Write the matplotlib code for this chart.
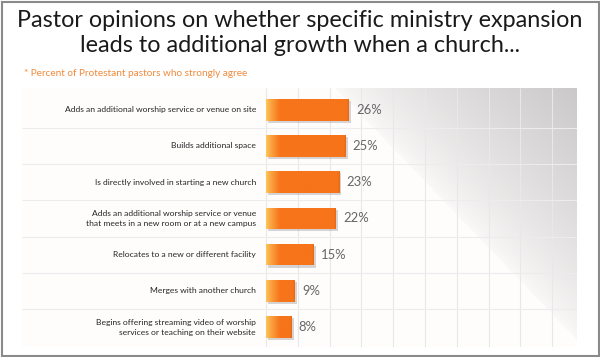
import numpy as np
import matplotlib
matplotlib.use("Agg")
import matplotlib.pyplot as plt
from matplotlib.patches import FancyBboxPatch, Rectangle
from matplotlib import patheffects as pe

W, H = 600, 357

labels = [
    "Adds an additional worship service or venue on site",
    "Builds additional space",
    "Is directly involved in starting a new church",
    "Adds an additional worship service or venue\nthat meets in a new room or at a new campus",
    "Relocates to a new or different facility",
    "Merges with another church",
    "Begins offering streaming video of worship\nservices or teaching on their website",
]
values = [26, 25, 23, 22, 15, 9, 8]
grid_ticks = [0, 10, 20, 30, 40, 50, 60, 70, 80, 90]

TITLE = "Pastor opinions on whether specific ministry expansion\nleads to additional growth when a church..."
NOTE = "* Percent of Protestant pastors who strongly agree"

plt.rcParams["font.family"] = ["Lato", "DejaVu Sans"]

fig = plt.figure(figsize=(W / 100, H / 100), dpi=100)
fig.patch.set_facecolor("white")

# outer frame
fig.patches.append(Rectangle((1.5 / W, 1.5 / H), 1 - 3 / W, 1 - 3 / H, transform=fig.transFigure,
                             fill=False, edgecolor="#8a8a8a", linewidth=1.5))

fig.text(0.5, 1 - 33 / H, TITLE, ha="center", va="center", fontsize=16.8,
         color="#1a1a1a", linespacing=1.22)
fig.text(24 / W, 1 - 73 / H, NOTE, ha="left", va="center", fontsize=7.2, color="#f08a3c")

# panel axes: pixel 22..577 horizontally, 88..347 vertically
px0, px1, py0, py1 = 22, 577, 88, 347
ax = fig.add_axes([px0 / W, 1 - py1 / H, (px1 - px0) / W, (py1 - py0) / H])
ax.set_axis_off()

scale = 3.18  # px per percent
x_start = 266
xmin = (px0 - x_start) / scale
xmax = (px1 - x_start) / scale
n = len(values)
ax.set_xlim(xmin, xmax)
ax.set_ylim(n - 0.45, -0.6)

panel = FancyBboxPatch((xmin, n - 0.45), xmax - xmin, -(n - 0.45 + 0.6),
                       boxstyle="round,pad=0,rounding_size=1.6", mutation_aspect=0.12,
                       facecolor="white", edgecolor="#b5b5b5", linewidth=1.0, zorder=0,
                       path_effects=[pe.SimplePatchShadow(offset=(1, -1), alpha=0.25), pe.Normal()])
ax.add_patch(panel)

# diagonal gray shading in upper-right corner
pw, ph = px1 - px0, py1 - py0
gx, gy = np.meshgrid(np.arange(pw), np.arange(ph))
# edge line from (335, 88) to (577, 340) in figure pixels
ax0, ay0 = 335 - px0, 0
nx, ny = 252.0, -242.0
nrm = np.hypot(nx, ny)
d = ((gx - ax0) * nx + (gy - ay0) * ny) / nrm
dmax = ((pw - ax0) * nx) / nrm
t = np.clip(d / dmax, 0, 1)
shade = np.where(d > 0, 0.985 - 0.19 * t ** 0.75, 1.0)
rgb = np.dstack([shade, shade * 0.99, shade * 0.99])
img = ax.imshow(rgb, extent=(xmin, xmax, n - 0.45, -0.6), aspect="auto", zorder=0.5,
                interpolation="bilinear")
img.set_clip_path(panel)

# grid
ax.vlines(grid_ticks, -0.6, n - 0.45, color="#e8e8e8", linewidth=0.8, zorder=1)
ax.hlines(np.arange(n - 1) + 0.5, xmin, xmax, color="#ececec", linewidth=0.8, zorder=1)

# bars
y = np.arange(n)
bars = ax.barh(y, values, height=0.6, left=0, color="#f5731b", zorder=3,
               path_effects=[pe.SimplePatchShadow(offset=(1.5, -1.5), alpha=0.3, shadow_rgbFace="#777777"),
                             pe.Normal()])

# horizontal gradient on each bar (light orange on the left)
fade = 14 / scale
for rect, v in zip(bars, values):
    xs = np.linspace(0, v, 200)
    k = np.clip(xs / fade, 0, 1) ** 0.8
    c0 = np.array([253, 200, 95]) / 255
    c1 = np.array([247, 116, 26]) / 255
    cols = c0[None, :] * (1 - k[:, None]) + c1[None, :] * k[:, None]
    edge = np.clip((xs - (v - 0.6)) / 0.6, 0, 1)
    cols = cols * (1 - 0.08 * edge[:, None])
    im = ax.imshow(cols[None, :, :], extent=(0, v, rect.get_y() + rect.get_height(), rect.get_y()),
                   aspect="auto", zorder=4, interpolation="bilinear")
    im.set_clip_path(rect)

for yi, v, lab in zip(y, values, labels):
    ax.text(v + 2.3, yi, f"{v}%", ha="left", va="center", fontsize=9.4, color="#666666", zorder=5)
    ax.text((256 - x_start) / scale, yi, lab, ha="right", va="center", fontsize=6.1,
            color="#262626", linespacing=1.5, zorder=5)

ax.set_ylim(n - 0.45, -0.6)
ax.set_xlim(xmin, xmax)

fig.savefig("out.png", dpi=100)
